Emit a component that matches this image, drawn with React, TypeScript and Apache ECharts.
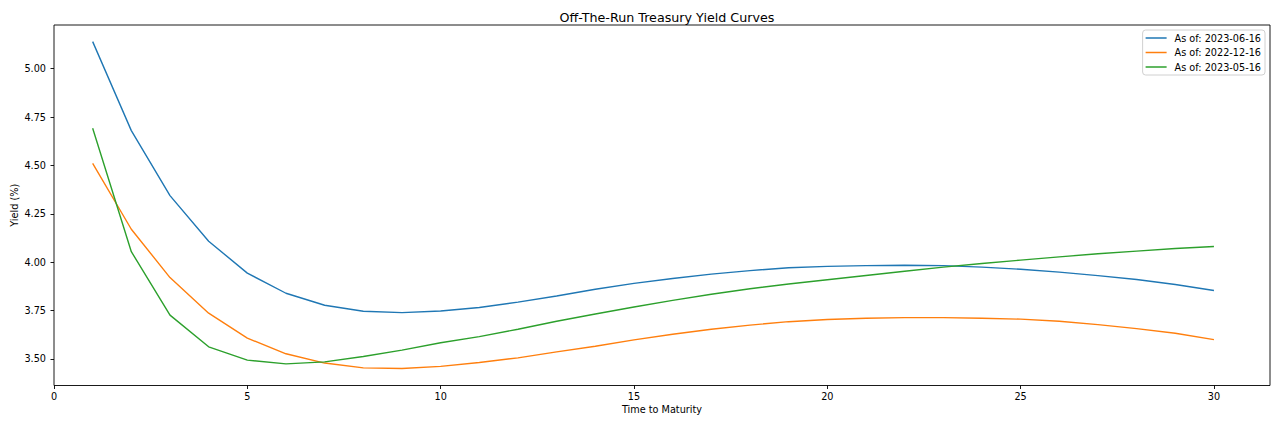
import * as echarts from 'echarts';
import { useEffect, useRef } from 'react';

// 期限（年）
const maturities = [
  1, 2, 3, 4, 5, 6, 7, 8, 9, 10, 11, 12, 13, 14, 15, 16, 17, 18, 19, 20, 21, 22, 23, 24, 25, 26, 27, 28, 29, 30,
];

const yields20230616 = [
  5.14, 4.68, 4.344, 4.108, 3.943, 3.839, 3.777, 3.746, 3.739, 3.747, 3.765, 3.793, 3.825, 3.86, 3.89, 3.915,
  3.938, 3.956, 3.971, 3.978, 3.982, 3.984, 3.982, 3.974, 3.963, 3.948, 3.93, 3.91, 3.884, 3.853,
];

const yields20221216 = [
  4.511, 4.17, 3.92, 3.736, 3.607, 3.526, 3.478, 3.453, 3.45, 3.461, 3.481, 3.505, 3.536, 3.565, 3.598, 3.627,
  3.653, 3.674, 3.692, 3.703, 3.71, 3.713, 3.713, 3.71, 3.705, 3.694, 3.677, 3.656, 3.632, 3.599,
];

const yields20230516 = [
  4.692, 4.054, 3.726, 3.562, 3.493, 3.474, 3.484, 3.512, 3.545, 3.583, 3.615, 3.653, 3.694, 3.732, 3.768, 3.802,
  3.834, 3.862, 3.887, 3.909, 3.931, 3.953, 3.974, 3.993, 4.01, 4.027, 4.043, 4.057, 4.07, 4.081,
];

const seriesNames = ['As of: 2023-06-16', 'As of: 2022-12-16', 'As of: 2023-05-16'];
const seriesColors = ['#1f77b4', '#ff7f0e', '#2ca02c'];

const xTicks = [0, 5, 10, 15, 20, 25, 30];
const yTicks = [3.5, 3.75, 4.0, 4.25, 4.5, 4.75, 5.0];

const FONT = 'DejaVu Sans';

export default function App() {
  const chartRef = useRef<HTMLDivElement>(null);

  useEffect(() => {
    if (!chartRef.current) return;
    const chart = echarts.init(chartRef.current, undefined, { renderer: 'svg' });

    const allYields = [yields20230616, yields20221216, yields20230516];

    chart.setOption({
      animation: false,
      backgroundColor: '#fff',
      title: {
        text: 'Off-The-Run Treasury Yield Curves',
        left: 662,
        top: 6,
        textAlign: 'center',
        textStyle: { fontFamily: FONT, fontSize: 12.7, fontWeight: 'normal', color: '#000' },
      },
      legend: {
        orient: 'vertical',
        right: 15,
        top: 30,
        data: seriesNames,
        icon: 'rect',
        itemWidth: 21,
        itemHeight: 1.5,
        itemGap: 4.5,
        padding: [3, 4, 3, 3],
        backgroundColor: 'rgba(255,255,255,0.8)',
        borderColor: '#d0d0d0',
        borderWidth: 1,
        borderRadius: 3,
        textStyle: { fontFamily: FONT, fontSize: 9.7, color: '#000', padding: [0, 0, 0, 3] },
      },
      grid: {
        left: 54,
        right: 10,
        top: 25,
        bottom: 41.5,
        outerBoundsMode: 'none',
        containLabel: false,
        show: true,
        borderColor: '#000',
        borderWidth: 0.9,
        backgroundColor: 'transparent',
      },
      xAxis: {
        type: 'value',
        min: 0,
        max: 31.45,
        name: 'Time to Maturity',
        nameLocation: 'middle',
        nameGap: 19,
        nameMoveOverlap: false,
        nameTextStyle: { fontFamily: FONT, fontSize: 9.7, color: '#000' },
        axisLine: { show: false },
        axisTick: { show: true, length: 3.5, customValues: xTicks, lineStyle: { color: '#000', width: 0.9 } },
        axisLabel: {
          customValues: xTicks,
          margin: 6,
          fontFamily: FONT,
          fontSize: 9.7,
          color: '#000',
        },
        splitLine: { show: false },
      },
      yAxis: {
        type: 'value',
        min: 3.362,
        max: 5.226,
        name: 'Yield (%)',
        nameLocation: 'middle',
        nameGap: 35,
        nameMoveOverlap: false,
        nameTextStyle: { fontFamily: FONT, fontSize: 9.7, color: '#000' },
        axisLine: { show: false },
        axisTick: { show: true, length: 3.5, customValues: yTicks, lineStyle: { color: '#000', width: 0.9 } },
        axisLabel: {
          customValues: yTicks,
          margin: 8,
          fontFamily: FONT,
          fontSize: 9.7,
          color: '#000',
          formatter: (v: number) => v.toFixed(2),
        },
        splitLine: { show: false },
      },
      series: seriesNames.map((name, i) => ({
        name,
        type: 'line',
        data: maturities.map((m, j) => [m, allYields[i][j]]),
        showSymbol: false,
        symbol: 'none',
        color: seriesColors[i],
        lineStyle: { width: 1.4, color: seriesColors[i] },
      })),
    });

    const onResize = () => chart.resize();
    window.addEventListener('resize', onResize);
    return () => {
      window.removeEventListener('resize', onResize);
      chart.dispose();
    };
  }, []);

  return <div ref={chartRef} style={{ position: 'fixed', left: 0, top: 0, width: 1280, height: 427 }} />;
}
